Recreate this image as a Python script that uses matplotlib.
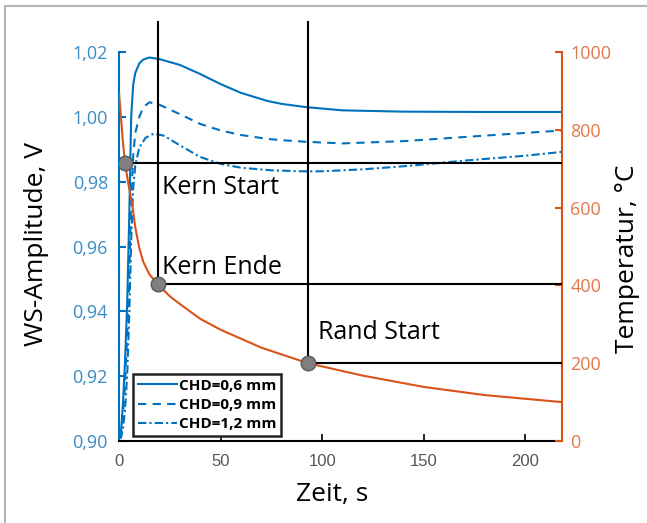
import matplotlib
matplotlib.use('Agg')
import matplotlib.pyplot as plt
from matplotlib.lines import Line2D

# amplitude curves (WS-Amplitude, V) for three case hardening depths
t_amp = [0, 1, 2, 3, 4, 5, 6, 7, 8, 10, 12, 15, 20, 30, 40, 50, 60, 73, 80, 92, 110, 140, 180, 218]
amp_06 = [0.901, 0.903, 0.912, 0.925, 0.942, 0.968, 1.000, 1.010, 1.0135, 1.0165, 1.0177, 1.0183, 1.0178,
          1.0160, 1.0132, 1.0101, 1.0074, 1.0049, 1.0040, 1.0030, 1.0020, 1.0016, 1.0015, 1.0015]
amp_09 = [0.901, 0.902, 0.908, 0.918, 0.932, 0.950, 0.975, 0.988, 0.995, 1.000, 1.003, 1.0045, 1.0037,
          1.0008, 0.9978, 0.9958, 0.9944, 0.9932, 0.9928, 0.9923, 0.9918, 0.9925, 0.9942, 0.9958]
t_amp12 = [0, 1, 2, 3, 4, 5, 6, 7, 8, 10, 13, 17, 22, 30, 40, 50, 60, 75, 90, 100, 120, 143, 170, 200, 218]
amp_12 = [0.901, 0.901, 0.904, 0.910, 0.920, 0.938, 0.962, 0.978, 0.985, 0.9905, 0.9935, 0.9948, 0.9942,
          0.9912, 0.9876, 0.9855, 0.9843, 0.9835, 0.9832, 0.9832, 0.9838, 0.9849, 0.9865, 0.988, 0.9892]

# temperature, °C
t_temp = [0, 1, 2, 3, 4, 5, 6.4, 8, 10, 12, 15, 19, 25, 30, 40, 50, 70, 93, 120, 150, 180, 218]
temp = [895, 830, 765, 715, 680, 650, 612, 550, 495, 460, 428, 404, 372, 352, 314, 286, 240, 200, 168, 139, 118, 100]

# marked points
mark_names = ['Kern Start', 'Kern Ende', 'Rand Start']
mark_t = [3, 19, 93]
mark_temp = [715, 404, 200]

blue = '#0072BD'
orange = '#D95319'

fig = plt.figure(figsize=(6.47, 5.23), dpi=100)
ax = fig.add_axes([119 / 647, 1 - 441 / 523, (562 - 119) / 647, (441 - 52) / 523])
ax2 = ax.twinx()

ax.plot(t_amp, amp_06, color=blue, lw=1.5, ls='-')
ax.plot(t_amp, amp_09, color=blue, lw=1.5, ls=(0, (4, 3)))
ax.plot(t_amp12, amp_12, color=blue, lw=1.5, ls=(0, (4, 1.5, 1, 1.5)))
ax.set_xlim(0, 218)
ax.set_ylim(0.90, 1.02)
ax.set_yticks([0.90, 0.92, 0.94, 0.96, 0.98, 1.00, 1.02])
ax.set_yticklabels(['0,90', '0,92', '0,94', '0,96', '0,98', '1,00', '1,02'])
ax.set_xticks([0, 50, 100, 150, 200])

ax2.plot(t_temp, temp, color=orange, lw=1.5, zorder=2)
ax2.set_ylim(0, 1000)
ax2.set_yticks([0, 200, 400, 600, 800, 1000])

# black marker lines
top = 1077
for i, name in enumerate(mark_names):
    ax2.plot([mark_t[i], 218], [mark_temp[i], mark_temp[i]], color='black', lw=1.5, zorder=3)
    if i > 0:
        ax2.plot([mark_t[i], mark_t[i]], [mark_temp[i], top], color='black', lw=1.5,
                 clip_on=False, zorder=3)
ax2.plot(mark_t, mark_temp, 'o', ms=10.5, color='#7f7f7f', mec='#5a5a5a', mew=1, zorder=5)

ax2.text(21, 652, 'Kern Start', fontsize=18, family='Open Sans', ha='left', va='center')
ax2.text(21, 446, 'Kern Ende', fontsize=18, family='Open Sans', ha='left', va='center')
ax2.text(98, 280, 'Rand Start', fontsize=18, family='Open Sans', ha='left', va='center')

# spines and ticks
for a in (ax, ax2):
    a.spines['top'].set_visible(False)
ax.spines['left'].set_color(blue)
ax.spines['left'].set_linewidth(1.5)
ax.spines['bottom'].set_linewidth(1.5)
ax.spines['right'].set_visible(False)
ax2.spines['left'].set_visible(False)
ax2.spines['bottom'].set_visible(False)
ax2.spines['right'].set_color(orange)
ax2.spines['right'].set_linewidth(1.5)

ax.tick_params(axis='y', direction='in', length=5, width=1.5, color=blue, labelcolor='#3a8cc6',
               labelsize=13, pad=8)
ax.tick_params(axis='x', direction='in', length=5, width=1.2, color='black', labelcolor='#555555',
               labelsize=12, pad=9)
ax2.tick_params(axis='y', direction='in', length=5, width=1.5, color=orange, labelcolor='#e0784a',
                labelsize=13, pad=6)
for lab in ax.get_yticklabels() + ax2.get_yticklabels():
    lab.set_family('Open Sans')
for lab in ax.get_xticklabels():
    lab.set_family('Liberation Sans')

fig.text(37 / 647, 1 - 244 / 523, 'WS-Amplitude, V', rotation=90, fontsize=19, family='Open Sans',
         ha='center', va='center')
fig.text(627 / 647, 1 - 259 / 523, 'Temperatur, °C', rotation=90, fontsize=19, family='Open Sans',
         ha='center', va='center')
fig.text(332 / 647, 1 - 495 / 523, 'Zeit, s', fontsize=19, family='Open Sans', ha='center', va='center')

handles = [Line2D([], [], color=blue, lw=1.5, ls='-'),
           Line2D([], [], color=blue, lw=1.5, ls=(0, (4, 3))),
           Line2D([], [], color=blue, lw=1.5, ls=(0, (4, 1.5, 1, 1.5)))]
leg = ax2.legend(handles, ['CHD=0,6 mm', 'CHD=0,9 mm', 'CHD=1,2 mm'],
                 loc='lower left', bbox_to_anchor=(133 / 647, 1 - 436 / 523),
                 bbox_transform=fig.transFigure, fancybox=False, framealpha=1,
                 edgecolor='#222222', handlelength=2.6, handletextpad=0.1,
                 borderpad=0.3, labelspacing=0.35, borderaxespad=0,
                 prop={'family': 'Open Sans', 'weight': 'bold', 'size': 11})
leg.get_frame().set_linewidth(1.8)
leg.set_zorder(10)

# figure border (left and top only)
fig.add_artist(Line2D([5 / 647, 5 / 647], [0, 1 - 6 / 523], color='#b5b5b5', lw=1.5))
fig.add_artist(Line2D([5 / 647, 1], [1 - 6 / 523, 1 - 6 / 523], color='#b5b5b5', lw=1.5))

fig.savefig('out.png', dpi=100)
